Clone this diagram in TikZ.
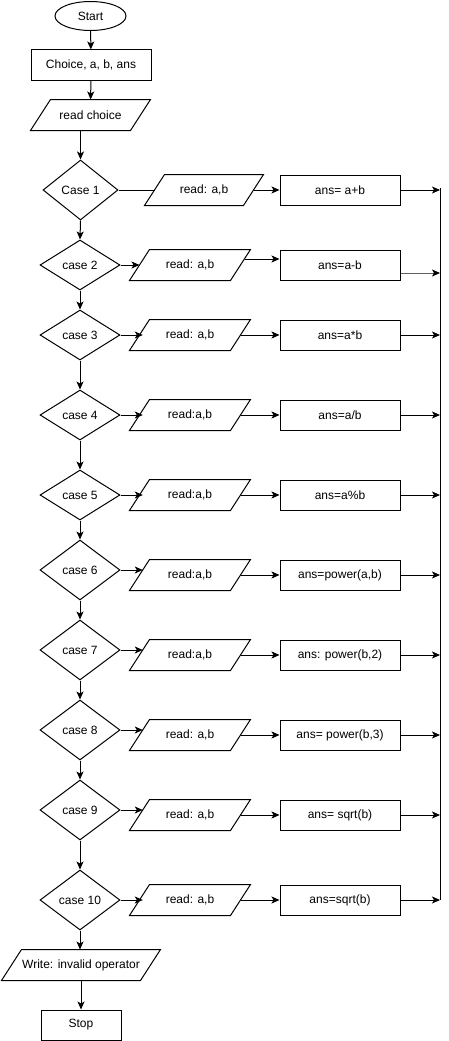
\documentclass[tikz,border=0pt]{standalone}
\usepackage{fontspec}
\setmainfont{Liberation Sans}
\usetikzlibrary{shapes.geometric,arrows.meta}

\tikzset{
  base/.style={draw, line width=1pt, inner sep=0pt, font=\fontsize{12}{14}\selectfont, text=black},
  terminal/.style={base, ellipse, minimum width=71pt, minimum height=29pt},
  procbox/.style={base, rectangle, minimum width=120pt, minimum height=30pt},
  stopbox/.style={base, rectangle, minimum width=80pt, minimum height=30pt},
  % input/output: a body of the given width, outlined as a parallelogram
  % whose sides lean 20pt to the right
  iobox/.style={base, draw=none, rectangle, minimum width=#1, minimum height=30pt,
    append after command={\pgfextra{
      \draw[line width=1pt, line join=miter]
        ([xshift=-10pt]\tikzlastnode.south west) -- ([xshift=10pt]\tikzlastnode.north west)
        -- ([xshift=10pt]\tikzlastnode.north east) -- ([xshift=-10pt]\tikzlastnode.south east)
        -- cycle;}}},
  iobox/.default=100pt,
  decision/.style={base, diamond, minimum width=80pt, minimum height=#1, aspect=1.5},
  decision/.default=60pt,
  flow/.style={line width=1pt, -{Stealth[length=8pt,width=7pt,inset=2pt,color=black]}},
  plain/.style={line width=1pt},
}

\begin{document}
\begin{tikzpicture}[x=1pt, y=-1pt]
  \useasboundingbox (0,0) rectangle (449,1041);

  % start, declarations, input of the choice
  \node[terminal] (start) at (90.5,16) {Start};
  \node[procbox] (decl) at (91,65) {Choice, a, b, ans};
  \node[iobox=99pt] (readc) at (90.5,115) {read choice};

  % decision chain
  \node[decision=60pt, minimum width=75pt] (c1) at (80.5,190) {Case 1};
  \node[decision=50pt] (c2) at (80,265) {case 2};
  \node[decision=50pt] (c3) at (80,335) {case 3};
  \node[decision=50pt] (c4) at (80,415) {case 4};
  \node[decision=50pt] (c5) at (80,495) {case 5};
  \node[decision] (c6) at (80,570) {case 6};
  \node[decision] (c7) at (80,650) {case 7};
  \node[decision] (c8) at (80,730) {case 8};
  \node[decision] (c9) at (80,810) {case 9};
  \node[decision] (c10) at (80,900) {case 10};

  % inputs of the operands
  \node[iobox=98pt] (r1) at (204,190) {read: a,b};
  \node[iobox] (r2) at (190,265) {read: a,b};
  \node[iobox] (r3) at (190,335) {read: a,b};
  \node[iobox] (r4) at (190,415) {read:a,b};
  \node[iobox] (r5) at (190,495) {read:a,b};
  \node[iobox] (r6) at (190,575) {read:a,b};
  \node[iobox] (r7) at (190,655) {read:a,b};
  \node[iobox] (r8) at (190,735) {read: a,b};
  \node[iobox] (r9) at (190,815) {read: a,b};
  \node[iobox] (r10) at (190,900) {read: a,b};

  % computations
  \node[procbox] (a1) at (340,190) {ans= a+b};
  \node[procbox] (a2) at (340,265) {ans=a-b};
  \node[procbox] (a3) at (340,335) {ans=a*b};
  \node[procbox] (a4) at (340,415) {ans=a/b};
  \node[procbox] (a5) at (340,495) {ans=a\%b};
  \node[procbox] (a6) at (340,575) {ans=power(a,b)};
  \node[procbox] (a7) at (340,655) {ans: power(b,2)};
  \node[procbox] (a8) at (340,735) {ans= power(b,3)};
  \node[procbox] (a9) at (340,815) {ans= sqrt(b)};
  \node[procbox] (a10) at (340,900) {ans=sqrt(b)};

  % default branch and end
  \node[iobox=138pt] (wr) at (81,965) {Write: invalid operator};
  \node[stopbox] (stop) at (81,1025) {Stop};

  % collecting line on the right
  \coordinate (bustop) at (440,188);
  \coordinate (busbot) at (440,900);
  \draw[plain] (bustop) -- (busbot);

  % main vertical flow
  \draw[flow] (start) -- (decl);
  \draw[flow] (decl) -- (readc);
  \draw[flow] (readc.south -| c1.north) -- (c1.north);
  \draw[flow] (c1.south) -- (c2.north);
  \draw[flow] (c2.south) -- (c3.north);
  \draw[flow] (c3.south) -- (c4.north);
  \draw[flow] (c4.south) -- (c5.north);
  \draw[flow] (c5.south) -- (c6.north);
  \draw[flow] (c6.south) -- (c7.north);
  \draw[flow] (c7.south) -- (c8.north);
  \draw[flow] (c8.south) -- (c9.north);
  \draw[flow] (c9.south) -- (c10.north);
  \draw[flow] (c10.south) -- (c10.south |- wr.north);
  \draw[flow] (wr.south -| stop.north) -- (stop.north);

  % row 1
  \draw[plain] (c1.east) -- (r1.west);
  \draw[flow] (r1.east) -- (a1.west);
  \draw[flow] (a1.east) -- (a1.east -| bustop);

  % row 2
  \draw[flow] (c2.east) -- (r2.west);
  \draw[flow] ([xshift=4pt,yshift=6pt]r2.east) -- ([yshift=6pt]a2.west);
  \draw[flow, draw={rgb,255:red,95;green,95;blue,95}] ([yshift=-8pt]a2.east) -- ([yshift=-8pt]a2.east -| bustop);

  % rows 3 to 10
  \foreach \i in {3,4,5,6,7,8,9,10}{
    \draw[flow] (c\i.east) -- ([xshift=3.3pt]r\i.west |- c\i.east);
    \draw[flow] (r\i.east) -- (a\i.west);
    \draw[flow] (a\i.east) -- (a\i.east -| bustop);
  }
\end{tikzpicture}
\end{document}
